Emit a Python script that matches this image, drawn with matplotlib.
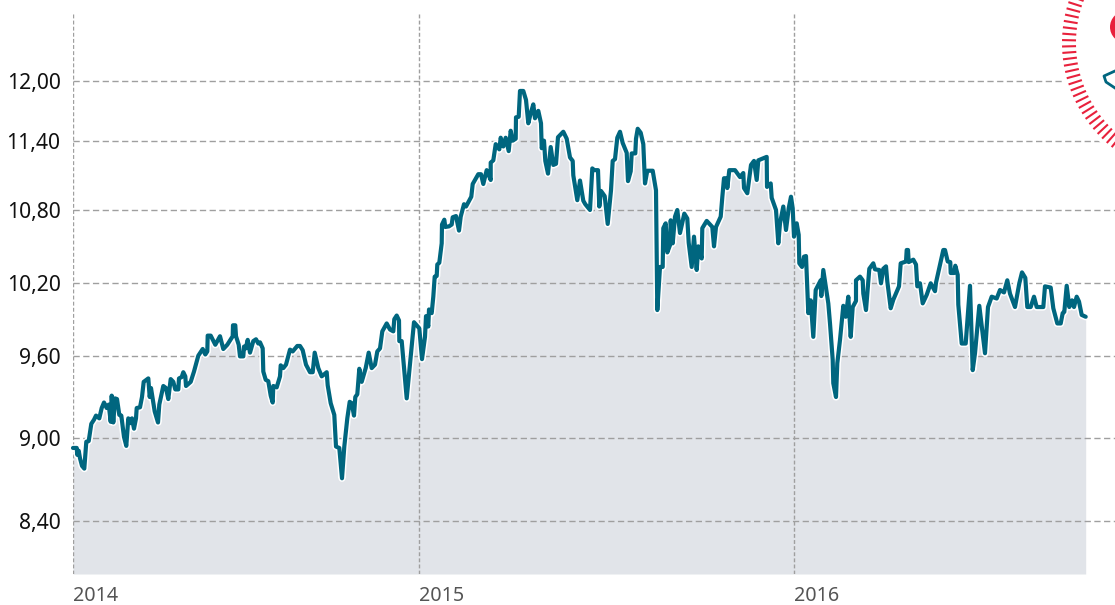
import numpy as np
import matplotlib
matplotlib.use("Agg")
import matplotlib.pyplot as plt
import matplotlib.patheffects as pe
from matplotlib.collections import LineCollection
from matplotlib.patches import Circle
from matplotlib.transforms import IdentityTransform

plt.rcParams['font.family'] = ['Noto Sans', 'DejaVu Sans']

TEAL = "#00667f"
FILL = "#e1e4e9"
GRID = "#9f9f9f"
RED = "#e8213c"

# x = days on the chart's own time axis
dias = [0, 3.7, 4.3, 5.7, 7, 9, 11.3, 13.3, 15.7, 18.3, 21, 23, 26.3, 28.7, 31, 33.7, 35.7, 37.7, 38.7, 40.3,
        42, 44, 46.3, 48.3, 51, 53.3, 55.3, 57.7, 59, 61, 63, 63.7, 67, 69, 70.7, 75.3, 76.7, 78, 79.7, 81.7,
        85, 86.3, 90.3, 93, 95.3, 97.7, 100.3, 102.3, 105.3, 106, 108.7, 110.3, 112.3, 113, 117.7, 121, 125.3, 129.7, 132.3, 134.3,
        134.7, 137.7, 142.3, 147, 150.3, 154.3, 159.7, 160, 162.3, 163, 165.7, 167, 170.3, 171, 172.7, 174.7, 177, 180.3, 183, 185.3,
        187, 189.7, 190.3, 192.7, 195.3, 197.7, 199.7, 200.3, 203.7, 207, 207.7, 210.3, 213, 217, 219.7, 224.3, 227, 229.7, 233, 237,
        239.7, 241.7, 245.3, 248.7, 253.7, 254.7, 257.7, 261.3, 263, 266.3, 269, 271.3, 274.3, 276.7, 278.7, 281, 282.3, 284.3, 286.3, 288.7,
        292.7, 295.7, 298.7, 302, 304.3, 307, 309.3, 313.7, 317, 320.3, 321.3, 323.7, 326, 326.3, 328.7, 333.7,
        337, 339.7, 341, 346.3, 349, 352, 353, 355.3, 356, 358.7, 360.3, 361.7, 363.7, 364.3, 366.3, 368.7, 369, 371.3, 372.3, 376,
        378.7, 379.7, 383, 386, 387.7, 391, 393, 398.3, 399.7, 405.3, 408, 410.3, 413.7, 417.7, 417.7, 420.3, 422.7, 426.3, 427.7, 430.3,
        432.7, 435.7, 437.7, 439.7, 442.7, 443, 445.7, 447, 450.3, 453, 455.3, 457.7, 460.3, 462, 465.3, 468, 468.7, 471, 472.3, 475,
        477.7, 480.3, 483, 485, 490.3, 493.7, 497, 499.7, 500.3, 504.3, 507, 510.3, 512.3, 517, 519.3, 521.3, 525, 526.3, 528, 531.7,
        534.7, 538, 539.7, 542, 544.3, 547, 549.7, 553.7, 555, 557.7, 558.7, 562.3, 563, 564.7, 567.7, 570.3, 572, 574.3, 579.7, 583,
        584.3, 587, 589.7, 590.3, 592.7, 594.3, 597, 597.7, 599.7, 602, 604.3, 607, 611.3, 614.3, 615.7, 618.7, 621, 623.7, 625.3, 628.7,
        629.3, 633.7, 639.3, 641, 643, 647.7, 649.3, 651, 653.7, 654.3, 656.3, 662, 667, 670.3, 671, 674.3, 678, 681, 683.7, 685.3,
        693.7, 694, 697.7, 698.7, 703, 705.3, 707,
        710.3, 713, 715.7, 718, 719.7, 721, 723.7, 725.7, 726.3, 729, 731, 733, 735.3, 737.7, 740.3, 742.7, 747.7, 748.3, 750.3, 755.3,
        757, 759.7, 760.3, 763, 764.3, 767, 770.3, 772.7, 775.3, 777.7, 779.7, 783, 783, 787, 789.7, 790.3, 793, 796.3, 800.3, 802,
        806.3, 808, 810.3, 813, 814.3, 817.7, 820.3, 826, 827.7, 833, 833.7, 835, 835.7, 840.3, 843, 844.3, 847, 849.7, 853.7, 857.7,
        862, 863, 870.3, 872, 874.7, 877.3, 877.7, 881, 882.3, 884.7, 885.3, 888.7, 892.7, 897, 899.7, 902, 906.3, 912, 915, 918.7,
        923.7, 927, 931, 934.3, 937, 942, 946.3, 949, 952.3, 954.3, 957.7, 961, 963.7, 970.3, 972, 977.7, 980.3, 984.3, 987.7, 989.7,
        991.3, 993.7, 996.3, 999, 1001, 1003.7, 1006, 1008.7, 1012.7]

cierre = [8.93, 8.93, 8.88, 8.91, 8.855, 8.80, 8.78, 8.975, 8.98, 9.105, 9.135, 9.165, 9.145, 9.22, 9.26, 9.22, 9.245, 9.12, 9.31, 9.115,
          9.29, 9.285, 9.17, 9.165, 9.01, 8.945, 9.145, 9.11, 9.145, 9.07, 9.145, 9.22, 9.225, 9.30, 9.41, 9.435, 9.30, 9.365, 9.285, 9.195,
          9.115, 9.245, 9.38, 9.365, 9.285, 9.43, 9.41, 9.355, 9.355, 9.435, 9.445, 9.48, 9.45, 9.38, 9.41, 9.485, 9.60, 9.655, 9.61, 9.635,
          9.765, 9.765, 9.69, 9.76, 9.655, 9.69, 9.76, 9.85, 9.85, 9.76, 9.69, 9.595, 9.595, 9.675, 9.66, 9.73, 9.625, 9.72, 9.735, 9.70,
          9.71, 9.66, 9.485, 9.425, 9.415, 9.31, 9.26, 9.38, 9.37, 9.45, 9.53, 9.51, 9.535, 9.65, 9.635, 9.68, 9.68, 9.645, 9.535, 9.48,
          9.48, 9.625, 9.51, 9.45, 9.48, 9.385, 9.255, 9.17, 8.94, 8.93, 8.71, 8.94, 9.145, 9.265, 9.255, 9.165, 9.30, 9.32, 9.505, 9.41,
          9.51, 9.625, 9.51, 9.535, 9.635, 9.66, 9.80, 9.865, 9.815, 9.80, 9.90, 9.93, 9.89, 9.72, 9.72, 9.29,
          9.54, 9.77, 9.875, 9.825, 9.575, 9.755, 9.925, 9.84, 9.98, 9.95, 10.085, 10.25, 10.255, 10.35, 10.365, 10.525, 10.68, 10.72, 10.66, 10.665,
          10.68, 10.74, 10.75, 10.63, 10.745, 10.85, 10.83, 10.915, 11.025, 11.11, 11.11, 11.025, 11.145, 11.06, 11.21, 11.23, 11.37, 11.325, 11.43, 11.35,
          11.43, 11.31, 11.50, 11.40, 11.42, 11.635, 11.64, 11.90, 11.90, 11.81, 11.575, 11.675, 11.765, 11.625, 11.70, 11.575, 11.335, 11.40, 11.225, 11.115,
          11.345, 11.19, 11.20, 11.435, 11.49, 11.42, 11.255, 11.225, 11.10, 10.885, 11.055, 10.88, 10.85, 10.80, 11.16, 11.145, 11.145, 10.83, 10.965, 10.92,
          10.685, 10.97, 11.225, 11.24, 11.43, 11.49, 11.38, 11.295, 11.05, 11.135, 11.29, 11.29, 11.42, 11.52, 11.48, 11.37, 11.03, 11.14, 11.14, 10.97,
          9.975, 10.33, 10.33, 10.65, 10.69, 10.45, 10.51, 10.715, 10.525, 10.745, 10.80, 10.61, 10.77, 10.73, 10.53, 10.33, 10.58, 10.305, 10.50, 10.40,
          10.65, 10.71, 10.66, 10.50, 10.66, 10.745, 10.91, 11.075, 11.075, 10.99, 11.145, 11.145, 11.085, 11.12, 10.99, 10.945, 11.19, 11.225, 11.06, 11.23,
          11.26, 11.0, 11.03, 10.905, 10.80, 10.525, 10.69,
          10.83, 10.635, 10.815, 10.915, 10.815, 10.58, 10.69, 10.595, 10.36, 10.33, 10.415, 10.42, 9.95, 10.055, 9.755, 10.14, 10.22, 10.09, 10.305, 10.03,
          9.865, 9.57, 9.40, 9.30, 9.545, 9.73, 10.01, 9.92, 10.085, 9.755, 10.0, 10.05, 10.22, 10.25, 10.22, 10.11, 9.975, 10.315, 10.36, 10.31,
          10.305, 10.195, 10.315, 10.335, 10.21, 9.99, 10.06, 10.17, 10.36, 10.375, 10.47, 10.47, 10.37, 10.39, 10.35, 10.17, 10.195, 10.03, 10.10, 10.195,
          10.13, 10.20, 10.47, 10.47, 10.375, 10.37, 10.28, 10.28, 10.34, 10.265, 10.02, 9.70, 9.70, 10.175, 9.495, 9.62, 10.01, 9.62, 10.0, 10.085,
          10.07, 10.14, 10.12, 10.22, 10.11, 10.0, 10.195, 10.285, 10.24, 10.0, 10.0, 10.085, 10.0, 10.0, 10.17, 10.16, 9.99, 9.865, 9.865, 9.95,
          9.96, 10.175, 10.0, 10.055, 10.0, 10.085, 10.045, 9.935, 9.92]

niveles_y = [8.40, 9.00, 9.60, 10.20, 10.80, 11.40, 12.00]
etiquetas_y = ["8,40", "9,00", "9,60", "10,20", "10,80", "11,40", "12,00"]
dias_anyo = [0, 346, 721]
anyos = ["2014", "2015", "2016"]

# the original axis is uneven (log-like), so map values through its gridline heights
v_knots = [0, 8.015, 8.40, 9.00, 9.60, 10.20, 10.80, 11.40, 12.00, 12.69, 30]
p_knots = [-7000, 0, 53, 135.7, 218.3, 291.3, 364, 433.3, 493, 562, 2300]


def fwd(v):
    return np.interp(v, v_knots, p_knots)


def inv(p):
    return np.interp(p, p_knots, v_knots)


W, H = 1115, 605
LEFT = 73
fig = plt.figure(figsize=(W / 100, H / 100), dpi=100, facecolor="white")
ax = fig.add_axes([LEFT / W, 1 - 574 / H, (W - LEFT) / W, 562 / H])
ax.set_yscale("function", functions=(fwd, inv))
ax.set_xlim(0, W - LEFT)
ax.set_ylim(8.015, 12.69)

ax.fill_between(dias, cierre, 8.015, color=FILL, lw=0, zorder=1)
ax.grid(False)
for v in niveles_y:
    ax.axhline(v, color=GRID, lw=1.0, dashes=(4.5, 2.5), zorder=2)
for d in dias_anyo:
    ax.axvline(d, color=GRID, lw=1.0, dashes=(2.8, 1.6), zorder=2)
ax.plot(dias, cierre, color=TEAL, lw=3.0, solid_joinstyle="round", solid_capstyle="round", clip_on=False, zorder=4,
        path_effects=[pe.withStroke(linewidth=5.2, foreground="white")])

for s in ax.spines.values():
    s.set_visible(False)
ax.set_yticks(niveles_y)
ax.set_yticklabels(etiquetas_y, fontsize=15.2, color="#111111")
ax.minorticks_off()
ax.set_xticks(dias_anyo)
ax.set_xticklabels(anyos, fontsize=14.2, color="#555555", ha="left")
ax.tick_params(axis="y", length=0, pad=9)
ax.tick_params(axis="x", length=0, pad=8.5)

# logo cut off at the top right corner, in pixel coordinates
cx, cy = 1196, H - 43
fig.add_artist(Circle((cx, cy), 138, transform=IdentityTransform(), fc="white", ec="none", zorder=2))
ang = np.deg2rad(np.arange(0, 360, 2.75))
segs = [[(cx + 120 * np.cos(a), cy + 120 * np.sin(a)), (cx + 134 * np.cos(a), cy + 134 * np.sin(a))] for a in ang]
fig.add_artist(LineCollection(segs, colors=RED, linewidths=1.5, transform=IdentityTransform(), zorder=3))
fig.add_artist(Circle((1126, H - 27), 16, transform=IdentityTransform(), fc=RED, ec="none", zorder=3))
fig.add_artist(plt.Line2D([1115, 1104, 1106, 1115], [H - 71, H - 76, H - 82, H - 88], color=TEAL, lw=2.0,
                          transform=IdentityTransform(), zorder=3))

fig.savefig("out.png", dpi=100)
